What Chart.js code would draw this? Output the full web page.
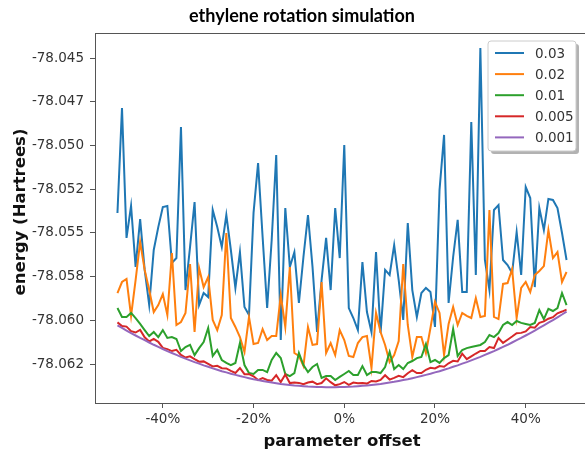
<!DOCTYPE html>
<html>
<head>
<meta charset="utf-8">
<script src="https://cdn.jsdelivr.net/npm/chart.js@4.4.0/dist/chart.umd.min.js"></script>
<style>
  html, body { margin: 0; padding: 0; background: #fff; overflow: hidden; }
  #wrap { position: relative; width: 610px; height: 453px; }
</style>
</head>
<body>
<div id="wrap"><canvas id="chart"></canvas></div>
<script>
// parameter offset in %, one point per percent
const offsets = [
  -50, -49, -48, -47, -46, -45, -44, -43, -42, -41, -40, -39, -38, -37, -36, -35, -34, -33, -32, -31,
  -30, -29, -28, -27, -26, -25, -24, -23, -22, -21, -20, -19, -18, -17, -16, -15, -14, -13, -12, -11,
  -10, -9, -8, -7, -6, -5, -4, -3, -2, -1, 0, 1, 2, 3, 4, 5, 6, 7, 8, 9,
  10, 11, 12, 13, 14, 15, 16, 17, 18, 19, 20, 21, 22, 23, 24, 25, 26, 27, 28, 29,
  30, 31, 32, 33, 34, 35, 36, 37, 38, 39, 40, 41, 42, 43, 44, 45, 46, 47, 48, 49
];

const seriesNames = ['0.03', '0.02', '0.01', '0.005', '0.001'];
const seriesColors = ['#1f77b4', '#ff7f0e', '#2ca02c', '#d62728', '#9467bd'];

const e003 = [
  -78.05386, -78.04786, -78.05529, -78.05346, -78.05695, -78.05421, -78.05712, -78.05913, -78.05598, -78.05467,
  -78.05352, -78.05346, -78.05672, -78.05644, -78.04895, -78.05827, -78.05581, -78.05324, -78.05913, -78.05844,
  -78.05867, -78.05369, -78.05467, -78.05581, -78.05398, -78.05598, -78.05815, -78.05610, -78.05924, -78.05970,
  -78.05386, -78.05101, -78.05524, -78.05930, -78.05541, -78.05055, -78.06113, -78.05358, -78.05695, -78.05610,
  -78.05901, -78.05638, -78.05398, -78.05695, -78.06067, -78.05770, -78.05529, -78.05827, -78.05358, -78.05644,
  -78.04998, -78.05930, -78.05987, -78.06056, -78.05667, -78.05953, -78.06067, -78.05610, -78.06073, -78.05712,
  -78.05741, -78.05570, -78.05770, -78.05998, -78.05444, -78.05827, -78.05981, -78.05844, -78.05815, -78.05838,
  -78.06038, -78.05255, -78.04940, -78.05901, -78.05638, -78.05426, -78.05838, -78.05838, -78.04866, -78.05741,
  -78.04443, -78.05655, -78.05827, -78.05369, -78.05341, -78.05655, -78.05684, -78.05730, -78.05495, -78.05741,
  -78.05238, -78.05301, -78.05810, -78.05358, -78.05484, -78.05306, -78.05312, -78.05358, -78.05501, -78.05655
];

const e002 = [
  -78.05844, -78.05781, -78.05764, -78.05975, -78.05770, -78.05552, -78.05712, -78.05827, -78.05953, -78.05913,
  -78.05850, -78.05970, -78.05615, -78.06027, -78.06010, -78.05958, -78.05678, -78.06067, -78.05701, -78.05810,
  -78.05753, -78.05998, -78.06056, -78.05970, -78.05501, -78.05987, -78.06038, -78.06096, -78.06181, -78.05981,
  -78.06136, -78.06130, -78.06050, -78.06113, -78.06090, -78.06090, -78.05855, -78.06038, -78.05695, -78.06187,
  -78.06204, -78.06262, -78.06038, -78.06141, -78.06136, -78.05781, -78.06187, -78.06130, -78.06199, -78.06056,
  -78.06113, -78.06204, -78.06210, -78.06130, -78.06096, -78.06090, -78.06273, -78.05958, -78.06067, -78.06141,
  -78.06239, -78.06199, -78.06119, -78.05678, -78.06027, -78.06210, -78.06096, -78.06096, -78.06187, -78.06044,
  -78.05895, -78.05958, -78.06199, -78.06021, -78.05924, -78.06027, -78.05958, -78.05975, -78.05987, -78.05873,
  -78.05981, -78.05975, -78.05369, -78.05981, -78.05993, -78.05792, -78.05787, -78.05707, -78.05987, -78.05815,
  -78.05781, -78.05838, -78.05741, -78.05718, -78.05690, -78.05484, -78.05644, -78.05610, -78.05781, -78.05724
];

const e001 = [
  -78.05930, -78.05981, -78.05981, -78.05958, -78.05987, -78.06021, -78.06056, -78.06090, -78.06067, -78.06096,
  -78.06056, -78.06101, -78.06096, -78.06107, -78.06176, -78.06153, -78.06141, -78.06199, -78.06159, -78.06124,
  -78.06044, -78.06204, -78.06170, -78.06227, -78.06244, -78.06256, -78.06244, -78.06130, -78.06256, -78.06302,
  -78.06307, -78.06284, -78.06284, -78.06296, -78.06227, -78.06187, -78.06216, -78.06307, -78.06319, -78.06302,
  -78.06187, -78.06256, -78.06296, -78.06267, -78.06250, -78.06330, -78.06319, -78.06319, -78.06342, -78.06324,
  -78.06307, -78.06290, -78.06313, -78.06313, -78.06262, -78.06313, -78.06296, -78.06296, -78.06302, -78.06267,
  -78.06181, -78.06279, -78.06256, -78.06279, -78.06244, -78.06233, -78.06216, -78.06210, -78.06136, -78.06239,
  -78.06227, -78.06244, -78.06216, -78.06199, -78.06050, -78.06204, -78.06170, -78.06159, -78.06153, -78.06147,
  -78.06141, -78.06124, -78.06084, -78.06096, -78.06073, -78.06027, -78.06010, -78.06027, -78.06004, -78.06015,
  -78.06021, -78.06027, -78.06015, -78.05941, -78.05993, -78.05935, -78.05947, -78.05930, -78.05844, -78.05913
];

const e0005 = [
  -78.06012, -78.06033, -78.06036, -78.06062, -78.06070, -78.06055, -78.06097, -78.06121, -78.06106, -78.06123,
  -78.06158, -78.06165, -78.06176, -78.06169, -78.06198, -78.06213, -78.06206, -78.06222, -78.06237, -78.06235,
  -78.06249, -78.06264, -78.06260, -78.06274, -78.06275, -78.06289, -78.06301, -78.06273, -78.06308, -78.06308,
  -78.06320, -78.06342, -78.06330, -78.06341, -78.06345, -78.06314, -78.06353, -78.06310, -78.06359, -78.06356,
  -78.06358, -78.06366, -78.06356, -78.06351, -78.06365, -78.06359, -78.06332, -78.06354, -78.06372, -78.06365,
  -78.06353, -78.06369, -78.06356, -78.06360, -78.06358, -78.06362, -78.06347, -78.06350, -78.06341, -78.06314,
  -78.06339, -78.06329, -78.06318, -78.06325, -78.06303, -78.06285, -78.06302, -78.06302, -78.06283, -78.06272,
  -78.06275, -78.06262, -78.06266, -78.06246, -78.06232, -78.06235, -78.06191, -78.06222, -78.06206, -78.06190,
  -78.06175, -78.06175, -78.06153, -78.06159, -78.06101, -78.06129, -78.06111, -78.06093, -78.06074, -78.06072,
  -78.06064, -78.06039, -78.06042, -78.06015, -78.06006, -78.05991, -78.05982, -78.05960, -78.05950, -78.05939
];

const e0001 = [
  -78.06029, -78.06044, -78.06059, -78.06073, -78.06087, -78.06101, -78.06114, -78.06127, -78.06140, -78.06152,
  -78.06164, -78.06176, -78.06187, -78.06198, -78.06209, -78.06219, -78.06229, -78.06239, -78.06248, -78.06258,
  -78.06266, -78.06275, -78.06283, -78.06291, -78.06298, -78.06306, -78.06312, -78.06319, -78.06325, -78.06331,
  -78.06337, -78.06342, -78.06347, -78.06352, -78.06356, -78.06360, -78.06364, -78.06367, -78.06370, -78.06373,
  -78.06375, -78.06377, -78.06379, -78.06380, -78.06382, -78.06382, -78.06383, -78.06383, -78.06383, -78.06382,
  -78.06382, -78.06380, -78.06379, -78.06377, -78.06375, -78.06373, -78.06370, -78.06367, -78.06364, -78.06360,
  -78.06356, -78.06352, -78.06347, -78.06342, -78.06337, -78.06331, -78.06325, -78.06319, -78.06312, -78.06306,
  -78.06298, -78.06291, -78.06283, -78.06275, -78.06266, -78.06258, -78.06248, -78.06239, -78.06229, -78.06219,
  -78.06209, -78.06198, -78.06187, -78.06176, -78.06164, -78.06152, -78.06140, -78.06127, -78.06114, -78.06101,
  -78.06087, -78.06073, -78.06059, -78.06044, -78.06029, -78.06014, -78.05999, -78.05983, -78.05967, -78.05950
];

const xTicks = [-40, -20, 0, 20, 40];
const xTickLabels = ['-40%', '-20%', '0%', '20%', '40%'];
const yTicks = [-78.0625, -78.06, -78.0575, -78.055, -78.0525, -78.05, -78.0475, -78.045];
const yTickLabels = ['-78.062', '-78.060', '-78.058', '-78.055', '-78.052', '-78.050', '-78.047', '-78.045'];

const chartTitle = 'ethylene rotation simulation';
const xTitle = 'parameter offset';
const yTitle = 'energy (Hartrees)';

const allSeries = [e003, e002, e001, e0005, e0001];

const tickFont = { family: 'DejaVu Sans', size: 13.5 };
const spine = '#555';

function roundRect(ctx, x, y, w, h, r) {
  ctx.beginPath();
  ctx.moveTo(x + r, y);
  ctx.lineTo(x + w - r, y);
  ctx.arcTo(x + w, y, x + w, y + r, r);
  ctx.lineTo(x + w, y + h - r);
  ctx.arcTo(x + w, y + h, x + w - r, y + h, r);
  ctx.lineTo(x + r, y + h);
  ctx.arcTo(x, y + h, x, y + h - r, r);
  ctx.lineTo(x, y + r);
  ctx.arcTo(x, y, x + r, y, r);
  ctx.closePath();
}

const decor = {
  id: 'decor',
  afterDraw(chart) {
    const ctx = chart.ctx;
    const a = chart.chartArea;
    ctx.save();
    // top and right spines
    ctx.strokeStyle = spine;
    ctx.lineWidth = 1;
    ctx.beginPath();
    ctx.moveTo(a.left, a.top + 0.5);
    ctx.lineTo(a.right - 0.5, a.top + 0.5);
    ctx.lineTo(a.right - 0.5, a.bottom);
    ctx.stroke();

    // title
    ctx.fillStyle = '#000';
    ctx.textAlign = 'center';
    ctx.textBaseline = 'alphabetic';
    ctx.font = 'bold 18px Lato';
    ctx.fillText(chartTitle, 302, 22);

    // axis titles
    ctx.fillStyle = '#111';
    ctx.font = 'bold 16.5px "DejaVu Sans"';
    ctx.fillText(xTitle, 342, 446);
    ctx.save();
    ctx.translate(25, 212);
    ctx.rotate(-Math.PI / 2);
    ctx.fillText(yTitle, 0, 0);
    ctx.restore();

    // legend
    const lx = 488, ly = 41, lw = 88, lh = 110;
    ctx.fillStyle = 'rgba(0,0,0,0.3)';
    roundRect(ctx, lx + 3, ly + 3, lw, lh, 3);
    ctx.fill();
    ctx.fillStyle = '#fff';
    roundRect(ctx, lx, ly, lw, lh, 3);
    ctx.fill();
    ctx.strokeStyle = '#ccc';
    ctx.stroke();
    ctx.font = '13.5px "DejaVu Sans"';
    ctx.textAlign = 'left';
    ctx.textBaseline = 'middle';
    chart.data.datasets.forEach((ds, i) => {
      const y = 53 + i * 21.1;
      ctx.strokeStyle = ds.borderColor;
      ctx.lineWidth = 2;
      ctx.beginPath();
      ctx.moveTo(495, y);
      ctx.lineTo(524, y);
      ctx.stroke();
      ctx.fillStyle = '#333';
      ctx.fillText(ds.label, 535, y + 1);
    });
    ctx.restore();
  }
};

new Chart(document.getElementById('chart'), {
  type: 'line',
  data: {
    datasets: allSeries.map((vals, i) => ({
      label: seriesNames[i],
      data: offsets.map((x, j) => ({ x: x, y: vals[j] })),
      borderColor: seriesColors[i],
      backgroundColor: seriesColors[i],
      borderWidth: 2,
      pointRadius: 0,
      tension: 0,
      fill: false,
      order: allSeries.length - i
    }))
  },
  options: {
    responsive: true,
    maintainAspectRatio: false,
    animation: false,
    layout: { padding: { top: 33, right: 21, left: 0, bottom: 0 } },
    plugins: {
      legend: { display: false },
      title: { display: false },
      tooltip: { enabled: false }
    },
    scales: {
      x: {
        type: 'linear',
        min: -54.95,
        max: 53.95,
        afterBuildTicks: s => { s.ticks = xTicks.map(v => ({ value: v })); },
        afterFit: s => { s.height = 50; },
        ticks: {
          callback: (v, i) => xTickLabels[i],
          font: tickFont,
          color: '#333',
          padding: 3,
          maxRotation: 0,
          autoSkip: false
        },
        grid: { display: true, drawOnChartArea: false, drawTicks: true, tickLength: 5, color: spine },
        border: { display: true, color: spine, width: 1 }
      },
      y: {
        type: 'linear',
        min: -78.06473,
        max: -78.04357,
        afterBuildTicks: s => { s.ticks = yTicks.map(v => ({ value: v })); },
        afterFit: s => { s.width = 95; },
        ticks: {
          callback: (v, i) => yTickLabels[i],
          font: tickFont,
          color: '#333',
          padding: 6,
          autoSkip: false
        },
        grid: { display: true, drawOnChartArea: false, drawTicks: true, tickLength: 5, color: spine },
        border: { display: true, color: spine, width: 1 }
      }
    }
  },
  plugins: [decor]
});
</script>
</body>
</html>
